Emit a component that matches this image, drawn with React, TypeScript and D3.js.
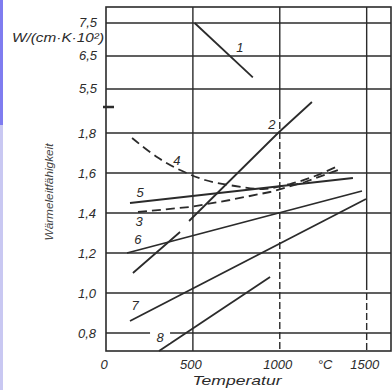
import React from 'react';
import * as d3 from 'd3';

const width = 392;
const height = 390;
// plot frame (px)
const frame = { left: 106, right: 391, top: 7, breakY: 107, bottom: 351 };

// temperature axis, °C
const tempDomain = [0, 1640];
const tempTicks = [0, 500, 1000, 1500];
const tempGrid = [500, 1000, 1500];

// broken value axis: upper and lower part
const upperDomain = [4.955, 7.985];
const lowerDomain = [0.71, 1.93];
const upperTicks = [5.5, 6.5, 7.5];
const lowerTicks = [0.8, 1.0, 1.2, 1.4, 1.6, 1.8];

// curves, [temperature, value]; null = gap
const curve1 = [[510, 7.5], [845, 5.85]];
const curve2 = [[155, 1.1], [426, 1.305], null, [478, 1.36], [990, 1.8], [1185, 1.955]];
const curve3 = [[184, 1.405], [483, 1.43], [713, 1.465], [944, 1.505], [1145, 1.555], [1335, 1.615]];
const curve4 = [[150, 1.775], [293, 1.68], [426, 1.615], [570, 1.565], [742, 1.535], [903, 1.52], [1059, 1.545], [1203, 1.585], [1335, 1.635]];
const curve5 = [[138, 1.45], [1421, 1.575]];
const curve6 = [[121, 1.2], [1473, 1.51]];
const curve7 = [[138, 0.86], [1496, 1.47]];
const curve8 = [[305, 0.71], [944, 1.08]];

// curve numbers [name, temperature, value]
const curveLabels = [
  ['1', 771, 6.77],
  ['2', 955, 1.845],
  ['3', 190, 1.36],
  ['4', 408, 1.665],
  ['5', 196, 1.505],
  ['6', 184, 1.27],
  ['7', 167, 0.94],
  ['8', 311, 0.78],
];

const fmt = (v: number) => v.toFixed(1).replace('.', ',');

const ink = '#2b2b2b';
const font = "'Liberation Sans', Arial, sans-serif";

export default function App() {
  const x = d3.scaleLinear().domain(tempDomain).range([frame.left, frame.right]);
  const yUp = d3.scaleLinear().domain(upperDomain).range([frame.breakY, frame.top]);
  const yLo = d3.scaleLinear().domain(lowerDomain).range([frame.bottom, frame.breakY]);

  const mk = (y: any, curve: any = d3.curveLinear) =>
    d3.line<any>()
      .defined(d => d !== null)
      .x(d => x(d[0]))
      .y(d => y(d[1]))
      .curve(curve);

  const lowerLines = [
    { d: curve2, dash: null },
    { d: curve3, dash: '9 5' },
    { d: curve4, dash: '9 5', smooth: true },
    { d: curve5, dash: null },
    { d: curve6, dash: null },
    { d: curve7, dash: null },
    { d: curve8, dash: null },
  ];

  return (
    <svg width={width} height={height} style={{ position: 'absolute', left: 0, top: 0, background: '#fff' }}>
      {/* scan border */}
      <rect x={0} y={0} width={3} height={125} fill='#7f7cf0' />
      <rect x={0} y={125} width={3} height={265} fill='#c9c8f2' />

      {/* horizontal grid */}
      {upperTicks.map(t => (
        <line key={'u' + t} x1={frame.left} x2={frame.right} y1={yUp(t)} y2={yUp(t)} stroke={ink} strokeWidth={1.4} />
      ))}
      {lowerTicks.map(t => (
        <line key={'l' + t} x1={frame.left} x2={frame.right} y1={yLo(t)} y2={yLo(t)} stroke={ink} strokeWidth={1.4} />
      ))}

      {/* vertical grid */}
      {tempGrid.map(t => (
        <g key={'v' + t}>
          <line x1={x(t)} x2={x(t)} y1={frame.top} y2={t === 1000 ? 112 : 283} stroke={ink} strokeWidth={1.4} />
          <line x1={x(t)} x2={x(t)} y1={t === 1000 ? 112 : 283} y2={frame.bottom}
            stroke={ink} strokeWidth={1.4} strokeDasharray={t === 500 ? null : '7 3'} />
        </g>
      ))}

      {/* frame */}
      <rect x={frame.left} y={frame.top} width={frame.right - frame.left} height={frame.bottom - frame.top}
        fill='none' stroke={ink} strokeWidth={1.6} />
      {/* axis break mark */}
      <line x1={frame.left - 3} x2={frame.left + 8} y1={frame.breakY} y2={frame.breakY} stroke={ink} strokeWidth={2.5} />

      {/* curves */}
      <path d={mk(yUp)(curve1 as any) || ''} fill='none' stroke={ink} strokeWidth={1.8} />
      {lowerLines.map((c, i) => (
        <path key={i} d={mk(yLo, c.smooth ? d3.curveCatmullRom : d3.curveLinear)(c.d as any) || ''}
          fill='none' stroke={ink} strokeWidth={1.8} strokeDasharray={c.dash || undefined} />
      ))}

      {/* curve numbers */}
      {curveLabels.map(([n, t, v]) => {
        const py = n === '1' ? yUp(v as number) : yLo(v as number);
        return (
          <g key={'c' + n}>
            {n === '8' && <rect x={x(t as number) - 10} y={py - 6} width={20} height={12} fill='#fff' />}
            <text x={x(t as number)} y={py} textAnchor='middle' dominantBaseline='central'
              fontFamily={font} fontStyle='italic' fontSize={13} fill={ink}>{n}</text>
          </g>
        );
      })}

      {/* value tick labels */}
      {upperTicks.map(t => (
        <text key={'ut' + t} x={97} y={yUp(t) - 1} textAnchor='end' dominantBaseline='central'
          fontFamily={font} fontStyle='italic' fontSize={13} fill={ink}>{fmt(t)}</text>
      ))}
      {lowerTicks.map(t => (
        <text key={'lt' + t} x={96} y={yLo(t)} textAnchor='end' dominantBaseline='central'
          fontFamily={font} fontStyle='italic' fontSize={13} fill={ink}>{fmt(t)}</text>
      ))}
      <text x={12} y={37} dominantBaseline='central' fontFamily={font} fontStyle='italic' fontSize={13}
        fill={ink} textLength={92} lengthAdjust='spacingAndGlyphs'>W/(cm·K·10²)</text>
      <text transform={`translate(49, 192) rotate(-90)`} textAnchor='middle' dominantBaseline='central'
        fontFamily={font} fontStyle='italic' fontSize={11} fill='#444' textLength={97}
        lengthAdjust='spacingAndGlyphs'>Wärmeleitfähigkeit</text>

      {/* temperature tick labels */}
      {tempTicks.map(t => (
        <text key={'tt' + t} x={x(t) - 2} y={364} textAnchor='middle' dominantBaseline='central'
          fontFamily={font} fontStyle='italic' fontSize={13} fill={ink}>{t}</text>
      ))}
      <text x={325} y={364} textAnchor='middle' dominantBaseline='central'
        fontFamily={font} fontStyle='italic' fontSize={13} fill={ink}>°C</text>
      <text x={237} y={380} textAnchor='middle' dominantBaseline='central'
        fontFamily={font} fontStyle='italic' fontSize={13} fill={ink} textLength={89}
        lengthAdjust='spacingAndGlyphs'>Temperatur</text>
    </svg>
  );
}
